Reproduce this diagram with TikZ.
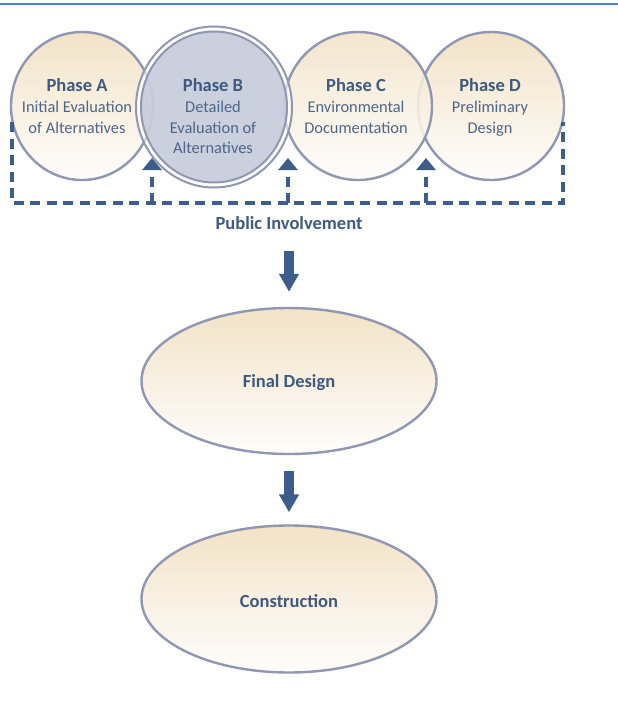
\documentclass[tikz,border=0pt]{standalone}
\usepackage{fontspec}
\setmainfont{Carlito}
\usetikzlibrary{shapes.geometric,arrows.meta}
\definecolor{tanc}{HTML}{F2E3C7}
\definecolor{lowc}{HTML}{FEFDFB}
\definecolor{ringc}{HTML}{8F97B2}
\definecolor{bfill}{HTML}{C3C8D9}
\definecolor{txtc}{HTML}{3E5A80}
\definecolor{bodyc}{HTML}{4D6689}
\definecolor{dashc}{HTML}{3D5E8B}
\definecolor{topline}{HTML}{4F82C8}
\begin{document}
\begin{tikzpicture}[x=1pt,y=1pt,
  phase/.style={ellipse, inner sep=0pt, top color=tanc, bottom color=lowc, draw=ringc, line width=2.4pt},
  hd/.style={anchor=base, inner sep=0pt, text=txtc, font=\fontsize{18.5}{22}\selectfont\bfseries},
  bd/.style={anchor=base, inner sep=0pt, text=bodyc, font=\fontsize{16.4}{20}\selectfont},
  dline/.style={draw=dashc, line width=3.4pt, dash pattern=on 10pt off 6.5pt},
  uparrow/.style={dline, -{Triangle[width=19pt,length=12pt]}},
  bigarrow/.style={draw=dashc, line width=10pt, -{Triangle[width=19pt,length=18pt]}}]
\useasboundingbox[fill=white] (0,0) rectangle (618,-701);
% top rule
\draw[topline, line width=1.8pt] (0,-4) -- (618,-4);
% phase circles
\node[phase, minimum width=142pt, minimum height=148pt] (A) at (82,-106) {};
\node[phase, minimum width=146pt, minimum height=148pt] (D) at (491,-106) {};
\node[phase, minimum width=148pt, minimum height=148pt, fill opacity=0.88] (C) at (358,-106) {};
\node[ellipse, inner sep=0pt, minimum width=156pt, minimum height=161pt, draw=ringc, line width=2pt, fill=white, fill opacity=0.6] (Bo) at (214,-107) {};
\node[ellipse, inner sep=0pt, minimum width=146pt, minimum height=151pt, draw=ringc, line width=2pt, fill=bfill, fill opacity=0.85] (B) at (214,-107) {};
% texts
\node[hd] (aH) at (77,-92) {Phase A};
\node[bd] (a1) at (77,-112) {Initial Evaluation};
\node[bd] (a2) at (77,-133) {of Alternatives};
\node[hd] (bH) at (213,-92) {Phase B};
\node[bd] (b1) at (213,-112) {Detailed};
\node[bd] (b2) at (213,-133) {Evaluation of};
\node[bd] (b3) at (213,-153) {Alternatives};
\node[hd] (cH) at (356,-92) {Phase C};
\node[bd] (c1) at (356,-112) {Environmental};
\node[bd] (c2) at (356,-133) {Documentation};
\node[hd] (dH) at (490,-92) {Phase D};
\node[bd] (d1) at (490,-112) {Preliminary};
\node[bd] (d2) at (490,-133) {Design};
% public involvement frame
\coordinate (fl) at (12,-122);
\coordinate (fr) at (563,-122);
\coordinate (bl) at (12,-203);
\coordinate (br) at (563,-203);
\coordinate (s1) at (152,-203);
\coordinate (s2) at (288,-203);
\coordinate (s3) at (426,-203);
\coordinate (t1) at (152,-158);
\coordinate (t2) at (288,-158);
\coordinate (t3) at (426,-158);
\draw[dline] (fl) -- (bl) -- (br) -- (fr);
\draw[uparrow] (s1) -- (t1);
\draw[uparrow] (s2) -- (t2);
\draw[uparrow] (s3) -- (t3);
\node[hd] (P) at (289,-229) {Public Involvement};
% lower ellipses
\node[phase, minimum width=295pt, minimum height=146pt] (F) at (289,-381) {};
\node[hd] (Ft) at (289,-387) {Final Design};
\node[phase, minimum width=295pt, minimum height=147pt] (K) at (289,-599) {};
\node[hd] (Kt) at (289,-607) {Construction};
\draw[bigarrow] ([yshift=-22pt]P.base) -- ([yshift=15pt]F.north);
\draw[bigarrow] ([yshift=-16pt]F.south) -- ([yshift=12pt]K.north);
\end{tikzpicture}
\end{document}
